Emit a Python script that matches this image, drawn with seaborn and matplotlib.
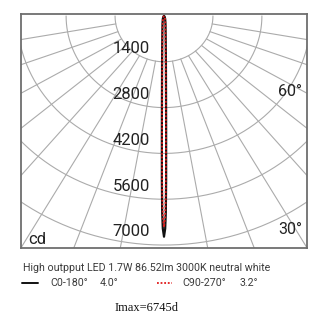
import numpy as np
import pandas as pd
import matplotlib
matplotlib.use("Agg")
import matplotlib.pyplot as plt
import seaborn as sns

# ---- data ----
angles_deg = [0, 0.3, 0.5, 0.7, 1.0, 1.5, 2, 3, 5, 10, 20, 40, 90]
c0_180 = [6745, 6500, 6000, 5000, 3500, 2200, 1600, 1000, 550, 250, 100, 30, 0]
c90_270 = [6450, 6150, 5600, 4500, 3100, 1950, 1420, 880, 480, 215, 85, 25, 0]
ring_values = [1400, 2800, 4200, 5600, 7000]
ring_labels = ["1400", "2800", "4200", "5600", "7000"]
spoke_angles = [10, 20, 30, 40, 50, 60, 70, 80]
angle_labels = ["60°", "30°"]
title_text = "High outpput LED 1.7W 86.52lm 3000K neutral white"
legend_items = [("C0-180°", "4.0°"), ("C90-270°", "3.2°")]
imax_text = "Imax=6745d"

sns.set_style("white")
plt.rcParams["font.family"] = ["Roboto", "DejaVu Sans"]

fig = plt.figure(figsize=(3.2, 3.2), dpi=100)
ax = fig.add_axes([21 / 320, 1 - 248 / 320, 286 / 320, 234 / 320])

XL = 4090
ax.set_xlim(-XL, XL)
ax.set_ylim(-7090, 60)

grid_col = "#ababab"
th = np.radians(np.linspace(-90, 90, 361))
for r in ring_values:
    ax.plot(r * np.sin(th), -r * np.cos(th), color=grid_col, lw=0.8, zorder=1)
for a in spoke_angles:
    for s in (-1, 1):
        t = np.radians(s * a)
        rr = np.array([1400, 12000])
        ax.plot(rr * np.sin(t), -rr * np.cos(t), color=grid_col, lw=0.8, zorder=1)


def curve_df(vals, name):
    ang = np.array(angles_deg, float)
    v = np.array(vals, float)
    full_a = np.concatenate([-ang[::-1], ang[1:]])
    full_v = np.concatenate([v[::-1], v[1:]])
    t = np.radians(full_a)
    return pd.DataFrame({"x": full_v * np.sin(t), "y": -full_v * np.cos(t),
                         "series": name})


d0 = curve_df(c0_180, "C0-180")
d90 = curve_df(c90_270, "C90-270")
sns.lineplot(data=d0, x="x", y="y", sort=False, estimator=None, color="#111111",
             lw=1.6, ax=ax, zorder=3)
sns.lineplot(data=d90, x="x", y="y", sort=False, estimator=None, color="#e01b1b",
             lw=1.3, linestyle=(0, (1, 1)), ax=ax, zorder=4)

ax.set_xlabel("")
ax.set_ylabel("")
ax.set_xticks([])
ax.set_yticks([])
for sp in ax.spines.values():
    sp.set_color("#6e6e6e")
    sp.set_linewidth(1.3)
    sp.set_visible(True)

for r, lab in zip(ring_values, ring_labels):
    ax.text(-400, -r + 400, lab, ha="right", va="center", fontsize=12,
            color="#222222", zorder=5)
ax.text(-3880, -6830, "cd", ha="left", va="center", fontsize=12, color="#222222")
ax.text(3960, -2300, angle_labels[0], ha="right", va="center", fontsize=11.5, color="#222222")
ax.text(3960, -6520, angle_labels[1], ha="right", va="center", fontsize=11.5, color="#222222")

fs = 7.7
tc = "#3a3a3a"
fig.text(23 / 320, 1 - 268 / 320, title_text, ha="left", va="center",
         fontsize=fs, color=tc)
y_leg = 1 - 283 / 320
fig.add_artist(plt.Line2D([22 / 320, 38 / 320], [y_leg, y_leg], color="#111111", lw=1.4))
fig.text(50 / 320, y_leg, legend_items[0][0], ha="left", va="center", fontsize=fs, color=tc)
fig.text(100 / 320, y_leg, legend_items[0][1], ha="left", va="center", fontsize=fs, color=tc)
fig.add_artist(plt.Line2D([157 / 320, 172 / 320], [y_leg, y_leg], color="#e01b1b", lw=1.3,
                          linestyle=(0, (1, 1))))
fig.text(182 / 320, y_leg, legend_items[1][0], ha="left", va="center", fontsize=fs, color=tc)
fig.text(240 / 320, y_leg, legend_items[1][1], ha="left", va="center", fontsize=fs, color=tc)
fig.text(147 / 320, 1 - 308 / 320, imax_text, ha="center", va="center", fontsize=9,
         family="Liberation Serif", color="#111111")

fig.savefig("out.png", dpi=100, facecolor="white")
